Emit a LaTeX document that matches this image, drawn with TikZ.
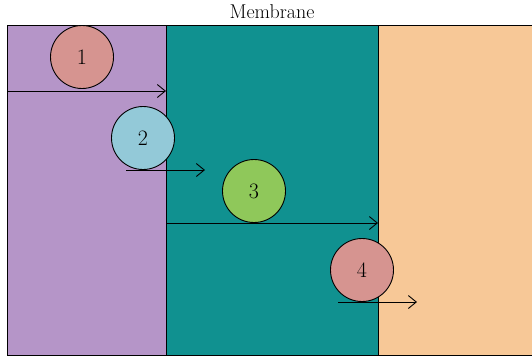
\documentclass[tikz,border=0pt]{standalone}
\usetikzlibrary{arrows.meta}
\definecolor{cpurple}{HTML}{B595C8}
\definecolor{cteal}{HTML}{109190}
\definecolor{corange}{HTML}{F7C897}
\definecolor{cpink}{HTML}{D69490}
\definecolor{cblue}{HTML}{93C9D8}
\definecolor{cgreen}{HTML}{8FC85A}
\tikzset{
  region/.style={draw=black, line width=0.9pt},
  particle/.style={circle, draw=black, line width=0.9pt, minimum size=63pt, inner sep=0pt, font=\fontsize{22}{24}\selectfont},
  flow/.style={line width=0.9pt, -{Straight Barb[length=8pt,width=13pt,line width=0.9pt]}},
}
\begin{document}
\begin{tikzpicture}[x=1pt,y=-1pt]
\useasboundingbox (0,0) rectangle (532,360);
\fill[white] (0,0) rectangle (532,360);
\draw[region, fill=cpurple] (7,25) rectangle (166,355);
\draw[region, fill=cteal] (166,25) rectangle (378,355);
\draw[region, fill=corange] (378,25) rectangle (533,355);
\node[font=\fontsize{20}{24}\selectfont] (title) at (272,12) {Membrane};
\node[particle, fill=cpink] (p1) at (82,57) {1};
\node[particle, fill=cblue] (p2) at (143,138) {2};
\node[particle, fill=cgreen] (p3) at (254,191) {3};
\node[particle, fill=cpink] (p4) at (362,270) {4};
\coordinate (a1s) at (7,91);
\coordinate (a1e) at (166,91);
\coordinate (a2s) at (126,170);
\coordinate (a2e) at (205,170);
\coordinate (a3s) at (166,223);
\coordinate (a3e) at (378,223);
\coordinate (a4s) at (338,302);
\coordinate (a4e) at (417,302);
\draw[flow] (a1s) -- (a1e);
\draw[flow] (a2s) -- (a2e);
\draw[flow] (a3s) -- (a3e);
\draw[flow] (a4s) -- (a4e);
\end{tikzpicture}
\end{document}
